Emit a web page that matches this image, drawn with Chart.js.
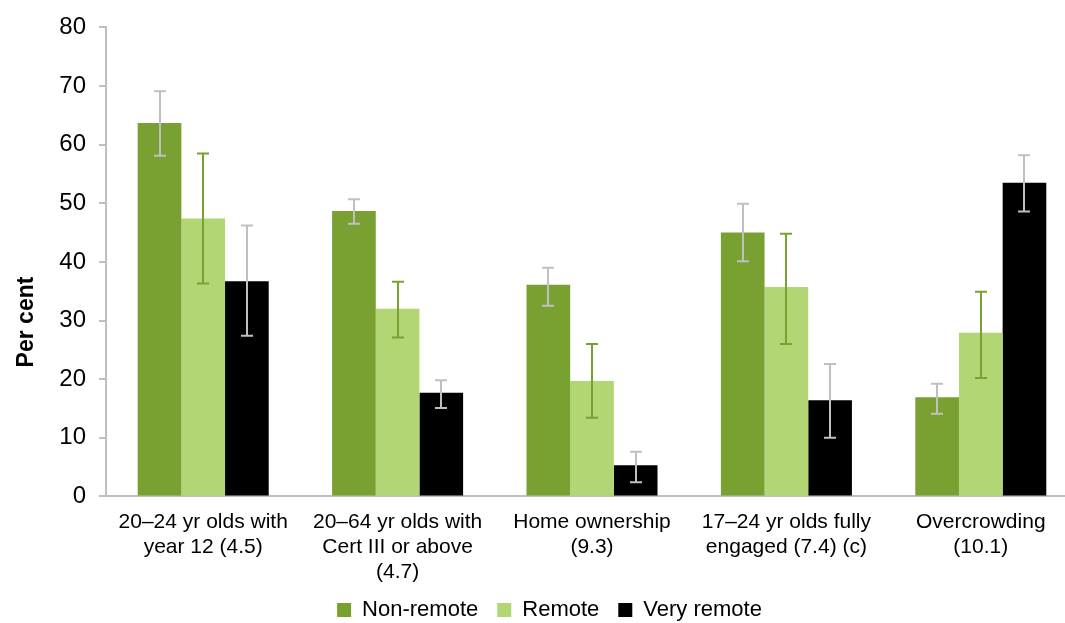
<!DOCTYPE html>
<html>
<head>
<meta charset="utf-8">
<script src="https://cdn.jsdelivr.net/npm/chart.js@4"></script>
<style>
  html, body { margin: 0; padding: 0; background: #fff; overflow: hidden; }
  #wrap { width: 1080px; height: 623px; }
</style>
</head>
<body>
<div id="wrap"><canvas id="chart"></canvas></div>
<script>
const categories = [
  ["20–24 yr olds with", "year 12 (4.5)"],
  ["20–64 yr olds with", "Cert III or above", "(4.7)"],
  ["Home ownership", "(9.3)"],
  ["17–24 yr olds fully", "engaged (7.4) (c)"],
  ["Overcrowding", "(10.1)"]
];

const nonRemote = [63.7, 48.7, 36.1, 45.0, 16.9];
const nonRemoteLow = [58.1, 46.5, 32.5, 40.1, 14.1];
const nonRemoteHigh = [69.1, 50.7, 39.0, 49.9, 19.2];

const remote = [47.4, 32.0, 19.7, 35.7, 27.9];
const remoteLow = [36.3, 27.1, 13.4, 26.0, 20.2];
const remoteHigh = [58.5, 36.6, 26.0, 44.8, 34.9];

const veryRemote = [36.7, 17.7, 5.3, 16.4, 53.5];
const veryRemoteLow = [27.4, 15.1, 2.4, 10.0, 48.6];
const veryRemoteHigh = [46.2, 19.8, 7.6, 22.6, 58.2];

const yTicks = [0, 10, 20, 30, 40, 50, 60, 70, 80];
const yTitle = "Per cent";

const FONT = "Liberation Sans, Arial, sans-serif";

// whiskers for the confidence intervals
const errorBars = {
  id: "errorBars",
  afterDatasetsDraw(chart) {
    const ctx = chart.ctx;
    const y = chart.scales.y;
    chart.data.datasets.forEach((ds, di) => {
      const meta = chart.getDatasetMeta(di);
      ctx.save();
      ctx.strokeStyle = ds.errColor;
      ctx.lineWidth = 2;
      meta.data.forEach((bar, i) => {
        const x = Math.round(bar.x);
        const top = y.getPixelForValue(ds.high[i]);
        const bot = y.getPixelForValue(ds.low[i]);
        ctx.beginPath();
        ctx.moveTo(x, top);
        ctx.lineTo(x, bot);
        ctx.moveTo(x - 6, top);
        ctx.lineTo(x + 6, top);
        ctx.moveTo(x - 6, bot);
        ctx.lineTo(x + 6, bot);
        ctx.stroke();
      });
      ctx.restore();
    });
  }
};

// y title sits lower than the middle, like the original
const axisTitle = {
  id: "axisTitle",
  afterDraw(chart) {
    const ctx = chart.ctx;
    ctx.save();
    ctx.translate(27, 322);
    ctx.rotate(-Math.PI / 2);
    ctx.font = "bold 23px " + FONT;
    ctx.fillStyle = "#000";
    ctx.textAlign = "center";
    ctx.textBaseline = "middle";
    ctx.fillText(yTitle, 0, 0);
    ctx.restore();
  }
};

// keep wide gaps between legend items but a short legend box
const legendTweak = {
  id: "legendTweak",
  beforeInit(chart) {
    const lg = chart.legend;
    const fit = lg.fit;
    lg.fit = function () {
      fit.call(this);
      this.height = 33;
    };
  },
  afterLayout(chart) {
    chart.legend.top -= 10;
  }
};

const ctx = document.getElementById("chart").getContext("2d");

new Chart(ctx, {
  type: "bar",
  data: {
    labels: categories,
    datasets: [
      {
        label: "Non-remote",
        data: nonRemote,
        low: nonRemoteLow,
        high: nonRemoteHigh,
        backgroundColor: "#78a132",
        errColor: "#c0c0c0"
      },
      {
        label: "Remote",
        data: remote,
        low: remoteLow,
        high: remoteHigh,
        backgroundColor: "#b3d675",
        errColor: "#78a132"
      },
      {
        label: "Very remote",
        data: veryRemote,
        low: veryRemoteLow,
        high: veryRemoteHigh,
        backgroundColor: "#000000",
        errColor: "#c0c0c0"
      }
    ]
  },
  options: {
    responsive: true,
    maintainAspectRatio: false,
    animation: false,
    layout: {
      padding: { left: 21, right: 2, top: 14, bottom: 0 }
    },
    datasets: {
      bar: {
        categoryPercentage: 0.674,
        barPercentage: 1.0
      }
    },
    scales: {
      x: {
        grid: { display: false },
        border: { color: "#bfbfbf", width: 2 },
        ticks: {
          color: "#000",
          font: { family: FONT, size: 21 },
          maxRotation: 0,
          autoSkip: false,
          padding: 5
        }
      },
      y: {
        min: 0,
        max: 80,
        afterBuildTicks: axis => {
          axis.ticks = yTicks.map(v => ({ value: v }));
        },
        afterFit: axis => {
          axis.width = 85;
        },
        grid: {
          drawOnChartArea: false,
          drawTicks: true,
          tickLength: 7,
          color: "#bfbfbf",
          lineWidth: 2
        },
        border: { color: "#bfbfbf", width: 2 },
        ticks: {
          color: "#000",
          font: { family: FONT, size: 24 },
          padding: 13
        }
      }
    },
    plugins: {
      legend: {
        position: "bottom",
        labels: {
          color: "#000",
          font: { family: FONT, size: 22 },
          boxWidth: 14,
          boxHeight: 14,
          padding: 19
        }
      },
      tooltip: { enabled: false }
    }
  },
  plugins: [errorBars, axisTitle, legendTweak]
});
</script>
</body>
</html>
